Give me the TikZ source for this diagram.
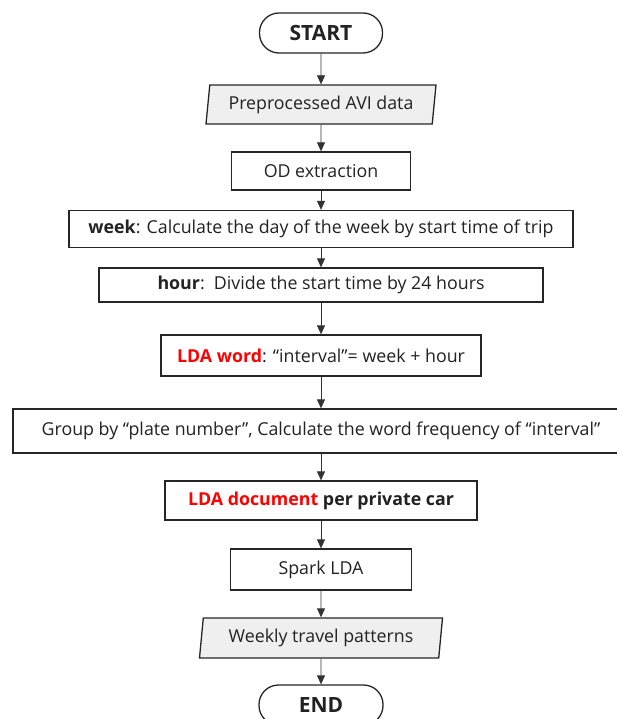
\documentclass[tikz,border=0pt]{standalone}
\usepackage{fontspec}
\setmainfont{Open Sans}
\usetikzlibrary{shapes.geometric,arrows.meta}
\definecolor{txt}{RGB}{34,34,34}
\definecolor{iofill}{RGB}{239,239,239}
\definecolor{lda}{RGB}{255,0,0}
\begin{document}
\begin{tikzpicture}[x=1pt,y=-1pt,
  font=\fontsize{17.8}{20}\selectfont, text=txt,
  box/.style={draw=black!85, line width=1.3pt, fill=white, inner sep=0pt, align=center},
  term/.style={box, rounded corners=19.5pt, font=\fontsize{21}{24}\selectfont\bfseries},
  io/.style={draw=black!85, line width=1.3pt, fill=iofill, inner sep=0pt, trapezium, trapezium left angle=78, trapezium right angle=102, trapezium stretches body=true},
  arr/.style={draw=black!80, line width=0.8pt, -{Triangle[length=9pt,width=8pt]}}]
\useasboundingbox (0,0) rectangle (617,719);
\clip (0,0) rectangle (617,719);
\node[term, minimum width=123pt, minimum height=40pt] (start) at (321,33) {START};
\node[io, minimum width=230pt, minimum height=39pt] (data) at (321,104.5) {Preprocessed AVI data};
\node[box, minimum width=179pt, minimum height=38pt] (od) at (321,171) {OD extraction};
\node[box, minimum width=504pt, minimum height=37pt] (week) at (321,229) {\textbf{week}: Calculate the day of the week by start time of trip};
\node[box, minimum width=444pt, minimum height=34pt] (hour) at (321,285) {\textbf{hour}:\ \ Divide the start time by 24 hours};
\node[box, minimum width=320pt, minimum height=41pt] (word) at (321,355.5) {\textbf{\color{lda}LDA word}: “interval”= week + hour};
\node[box, minimum width=616pt, minimum height=44pt] (group) at (321,431) {Group by “plate number”, Calculate the word frequency of “interval”};
\node[box, minimum width=312pt, minimum height=39pt, font=\fontsize{17.8}{20}\selectfont\bfseries] (doc) at (321,500.5) {{\color{lda}LDA document} per private car};
\node[box, minimum width=181pt, minimum height=41pt] (spark) at (321,569.5) {Spark LDA};
\node[io, minimum width=243pt, minimum height=40pt] (weekly) at (321,638) {Weekly travel patterns};
\node[term, minimum width=124pt, minimum height=40pt] (end) at (321,705) {END};
\draw[arr] (start) -- (data);
\draw[arr] (data) -- (od);
\draw[arr] (od) -- (week);
\draw[arr] (week) -- (hour);
\draw[arr] (hour) -- (word);
\draw[arr] (word) -- (group);
\draw[arr] (group) -- (doc);
\draw[arr] (doc) -- (spark);
\draw[arr] (spark) -- (weekly);
\draw[arr] (weekly) -- (end);
\end{tikzpicture}
\end{document}
